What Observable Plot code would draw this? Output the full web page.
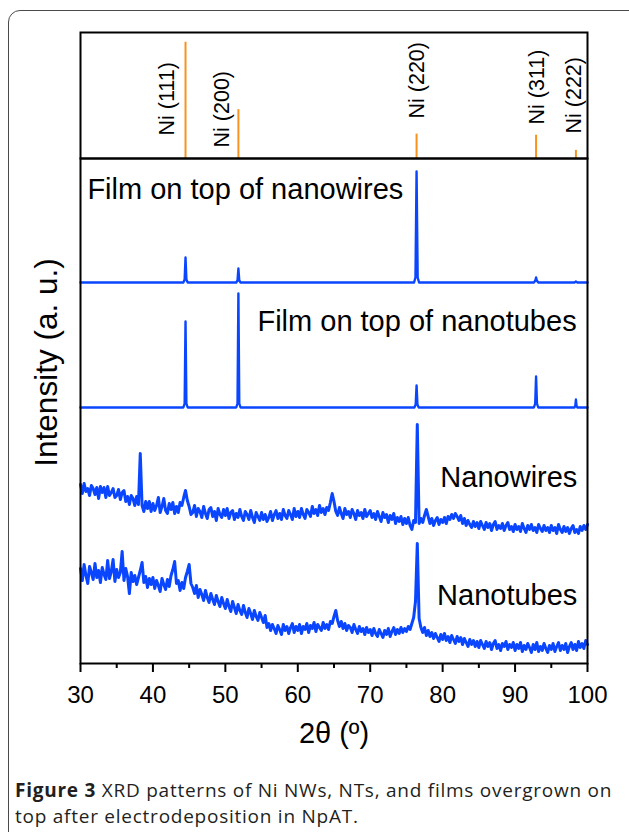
<!DOCTYPE html>
<html>
<head>
<meta charset="utf-8">
<script src="https://cdn.jsdelivr.net/npm/d3@7"></script>
<script src="https://cdn.jsdelivr.net/npm/@observablehq/plot@0.6"></script>
<style>
  html, body { margin: 0; padding: 0; background: #fff; }
  body { width: 629px; height: 832px; overflow: hidden; position: relative; }
  #frame { position: absolute; left: 8px; top: 10px; width: 640px; height: 860px;
           border: 1.5px solid #4a4a4a; border-radius: 12px; box-sizing: border-box; }
  #top, #main { position: absolute; left: 0; }
  #top { top: 0; }
  #main { top: 148px; }
  #caption { position: absolute; left: 15px; top: 777px; font-family: "Open Sans", sans-serif;
             font-size: 19px; letter-spacing: 0.75px; line-height: 26px; color: #231f20; white-space: nowrap; }
  #caption b { font-weight: 700; }
</style>
</head>
<body>
<div id="frame"></div>
<div id="top"></div>
<div id="main"></div>
<div id="caption"><b>Figure 3</b> XRD patterns of Ni NWs, NTs, and films overgrown on<br>top after electrodeposition in NpAT.</div>
<script>
// ---- reference pattern (Ni, fcc) ----
const refPeaks = [44.5, 51.8, 76.4, 92.9, 98.4];
const refIntensity = [100, 42, 21, 20, 7];
const refNames = ["Ni (111)", "Ni (200)", "Ni (220)", "Ni (311)", "Ni (222)"];
// label anchor (start of rotated text) in data units
const refLabelX = [42.0, 49.6, 76.45, 93.05, 98.2];
const refLabelY = [19.8, 9.5, 34.4, 29.2, 21.5];

// ---- ticks ----
const majorTicks = [30, 40, 50, 60, 70, 80, 90, 100];
const minorTicks = [35, 45, 55, 65, 75, 85, 95];

// ---- film traces (angle, stacked intensity a.u.) ----
const filmNWAngle = [30,44.2,44.38,44.5,44.62,44.8,51.5,51.68,51.8,51.92,52.1,76.05,76.25,76.4,76.55,76.75,92.6,92.8,92.9,93.0,93.2,98.2,98.4,98.6,100];
const filmNWValue = [381,381,384,406,384,381,381,383,395,383,381,381,386,492,386,381,381,383,386,383,381,381,382,381,381];
const filmNTAngle = [30,44.2,44.38,44.5,44.62,44.8,51.5,51.68,51.8,51.92,52.1,76.1,76.28,76.4,76.52,76.7,92.6,92.78,92.9,93.02,93.2,98.2,98.32,98.4,98.48,98.6,100];
const filmNTValue = [256,256,260,342,260,256,256,260,370,260,256,256,259,278,259,256,256,260,287,260,256,256,258,264,258,256,256];

// ---- noisy scans: 0.25 deg steps from 30 to 100 ----
const scanStart = 30, scanStep = 0.25;
const nanowires = [
179,170,180,172,175,168,178,175,169,176,165,177,171,176,166,177,168,171,175,166,
168,174,164,171,173,162,167,159,168,165,158,167,159,210,158,152,162,155,162,152,
160,153,158,166,151,157,165,153,150,160,154,161,150,157,151,161,158,166,173,163,
157,149,151,158,147,155,152,146,157,150,145,154,156,147,152,143,155,149,146,154,
148,155,145,151,153,144,150,146,154,147,143,152,149,144,153,146,141,151,147,143,
151,144,149,142,146,152,143,149,153,145,150,144,154,148,145,153,149,144,155,147,
152,146,155,149,145,154,151,147,157,150,154,148,158,151,155,149,156,153,161,170,
162,152,148,156,150,145,155,149,152,146,154,150,144,153,148,151,145,154,147,150,
153,146,150,144,152,147,142,151,146,149,141,148,144,150,140,146,142,147,139,145,
140,146,138,134,143,141,239,140,145,141,148,154,147,140,145,138,143,146,139,144,
141,146,140,147,144,149,145,150,147,143,148,140,145,138,143,139,136,142,137,141,
135,142,138,134,141,136,140,133,139,142,134,138,135,140,133,138,141,134,137,132,
139,134,137,132,140,135,131,138,134,139,133,136,131,139,135,132,138,133,136,131,
138,133,136,130,139,134,131,137,132,136,130,135,138,131,134,130,137,133,138,134,
139];
const nanotubes = [
95,83,99,88,80,97,91,84,100,86,93,81,96,89,84,103,85,92,104,82,
94,86,91,112,83,95,87,70,91,82,88,79,86,93,101,81,87,76,85,79,
86,75,83,78,72,85,79,74,84,77,88,94,102,80,83,73,81,75,86,92,
99,80,76,70,78,66,74,69,63,73,66,61,70,64,59,68,62,57,66,60,
55,64,57,52,62,56,50,59,53,49,58,51,46,55,50,44,53,47,43,51,
46,41,48,36,40,33,39,35,30,38,34,29,39,33,37,30,36,40,31,37,
33,39,30,37,34,40,31,38,35,41,32,39,36,33,41,35,39,34,42,40,
47,53,43,37,42,35,40,33,38,36,31,39,34,30,37,32,35,29,36,31,
34,28,35,30,27,34,30,26,33,29,35,27,32,36,29,34,30,36,31,35,
32,37,34,40,46,62,120,45,36,31,36,28,33,27,31,25,30,26,22,29,
24,30,23,27,21,28,24,20,27,22,26,19,25,21,17,24,19,23,17,22,
16,23,19,15,22,17,21,14,20,23,15,19,13,20,17,22,14,19,16,21,
13,19,15,21,12,18,14,20,16,11,19,14,21,12,17,13,20,15,11,18,
14,20,12,17,21,13,18,14,20,11,17,21,14,19,13,22,16,20,15,23,
19];

// ---- panel labels (data units) ----
const labelText = ["Film on top of nanowires", "Film on top of nanotubes", "Nanowires", "Nanotubes"];
const labelX = [30.95, 98.5, 98.6, 98.6];
const labelY = [465, 333, 177, 59];
const labelAnchor = ["start", "end", "end", "end"];

// ---- build tables ----
const refTable = refPeaks.map((p, i) => ({pos: p, I: refIntensity[i], name: refNames[i], lx: refLabelX[i], ly: refLabelY[i]}));
const film1 = filmNWAngle.map((a, i) => ({angle: a, v: filmNWValue[i]}));
const film2 = filmNTAngle.map((a, i) => ({angle: a, v: filmNTValue[i]}));
const nw = nanowires.map((v, i) => ({angle: scanStart + i * scanStep, v}));
const nt = nanotubes.map((v, i) => ({angle: scanStart + i * scanStep, v}));
const labels = labelText.map((t, i) => ({text: t, x: labelX[i], y: labelY[i], anchor: labelAnchor[i]}));

const FONT = "Liberation Sans, Arial, Helvetica, sans-serif";
const BLUE = "#0a46ff";
const ORANGE = "#f7931e";

const topPlot = Plot.plot({
  width: 629, height: 170,
  marginLeft: 80, marginRight: 42, marginTop: 32, marginBottom: 12,
  style: {fontFamily: FONT, background: "transparent", color: "#000"},
  x: {domain: [30, 100], axis: null},
  y: {domain: [0, 108.4], axis: null},
  marks: [
    Plot.ruleX(refTable, {x: "pos", y1: 0, y2: "I", stroke: ORANGE, strokeWidth: 2}),
    Plot.text(refTable, {x: "lx", y: "ly", text: "name", rotate: -90, textAnchor: "start",
      lineAnchor: "middle", fontSize: 21.5, fontFamily: FONT, fill: "#000"}),
    Plot.frame({stroke: "#000", strokeWidth: 2})
  ]
});
document.getElementById("top").appendChild(topPlot);

const mainPlot = Plot.plot({
  width: 629, height: 612,
  marginLeft: 80, marginRight: 42, marginTop: 10, marginBottom: 97,
  style: {fontFamily: FONT, background: "transparent", color: "#000"},
  x: {domain: [30, 100], axis: null},
  y: {domain: [0, 505], axis: null},
  marks: [
    Plot.line(nt, {x: "angle", y: "v", stroke: BLUE, strokeWidth: 3, strokeLinejoin: "round"}),
    Plot.line(nw, {x: "angle", y: "v", stroke: BLUE, strokeWidth: 3, strokeLinejoin: "round"}),
    Plot.line(film2, {x: "angle", y: "v", stroke: BLUE, strokeWidth: 2.4}),
    Plot.line(film1, {x: "angle", y: "v", stroke: BLUE, strokeWidth: 2.4}),
    Plot.text(labels.filter(d => d.anchor === "start"), {x: "x", y: "y", text: "text", textAnchor: "start",
      lineAnchor: "bottom", fontSize: 29, fontFamily: FONT, fill: "#000"}),
    Plot.text(labels.filter(d => d.anchor === "end"), {x: "x", y: "y", text: "text", textAnchor: "end",
      lineAnchor: "bottom", fontSize: 29, fontFamily: FONT, fill: "#000"}),
    Plot.axisX({ticks: minorTicks, tickSize: 5, text: null, strokeWidth: 2, stroke: "#000"}),
    Plot.axisX({ticks: majorTicks, tickSize: 9, tickPadding: 13, fontSize: 24, fontFamily: FONT, strokeWidth: 2,
      stroke: "#000", fill: "#000", label: null, tickFormat: d => String(d)}),
    Plot.text(["2θ (º)"], {text: d => d, frameAnchor: "bottom", dy: 79, textAnchor: "middle", lineAnchor: "bottom",
      fontSize: 29, fontFamily: FONT, fill: "#000"}),
    Plot.text(["Intensity (a. u.)"], {text: d => d, frameAnchor: "left", rotate: -90, dx: -34, dy: -48.5,
      textAnchor: "middle", lineAnchor: "middle", fontSize: 31.5, fontFamily: FONT, fill: "#000"}),
    Plot.frame({stroke: "#000", strokeWidth: 2})
  ]
});
document.getElementById("main").appendChild(mainPlot);
</script>
</body>
</html>
